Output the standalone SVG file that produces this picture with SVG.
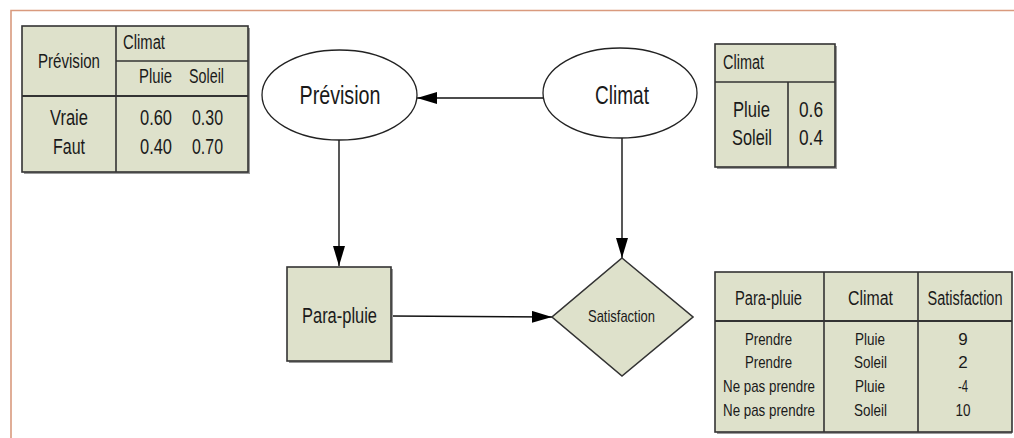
<svg xmlns="http://www.w3.org/2000/svg" width="1014" height="438" viewBox="0 0 1014 438">
  <defs>
    <marker id="arrow" viewBox="0 0 20 12" refX="20" refY="6" markerWidth="20" markerHeight="12" markerUnits="userSpaceOnUse" orient="auto">
      <path d="M0,0 L20,6 L0,12 Z" fill="#000"/>
    </marker>
    <style>
      text { font-family: "Liberation Sans Narrow", "Liberation Sans", Arial, sans-serif; fill: #1a1a1a; }
      .mid { text-anchor: middle; }
      .box { fill: #dee1cb; stroke: #333; stroke-width: 1.6; }
      .shadow { fill: #9a9a9a; }
      .rule { stroke: #333; stroke-width: 1.6; fill: none; }
      .rule2 { stroke: #333; stroke-width: 2.2; fill: none; }
      .node { fill: #fff; stroke: #222; stroke-width: 1.3; }
      .edge { stroke: #111; stroke-width: 1.4; fill: none; marker-end: url(#arrow); }
      .h18 { font-size: 19.5px; }
      .d20 { font-size: 21.5px; }
      .d16 { font-size: 17px; }
    </style>
  </defs>

  <!-- page frame -->
  <path d="M11,438 L11,10.5 L1014,10.5" fill="none" stroke="#d99a7e" stroke-width="1.6"/>

  <!-- CPT: Prévision given Climat -->
  <g id="table-prevision">
    <rect class="shadow" x="24" y="28" width="226" height="146"/>
    <rect class="box" x="22" y="26" width="226" height="146"/>
    <line class="rule" x1="116" y1="26" x2="116" y2="172"/>
    <line class="rule" x1="116" y1="61" x2="248" y2="61"/>
    <line class="rule2" x1="22" y1="96" x2="248" y2="96"/>
    <text class="h18 mid" x="69" y="68" textLength="62" lengthAdjust="spacingAndGlyphs">Prévision</text>
    <text class="h18" x="123" y="49" textLength="42" lengthAdjust="spacingAndGlyphs">Climat</text>
    <text class="h18 mid" x="155.5" y="83" textLength="33" lengthAdjust="spacingAndGlyphs">Pluie</text>
    <text class="h18 mid" x="206.5" y="83" textLength="35" lengthAdjust="spacingAndGlyphs">Soleil</text>
    <text class="d20 mid" x="69" y="125" textLength="38" lengthAdjust="spacingAndGlyphs">Vraie</text>
    <text class="d20 mid" x="69" y="154" textLength="32" lengthAdjust="spacingAndGlyphs">Faut</text>
    <text class="d20 mid" x="156" y="125" textLength="32" lengthAdjust="spacingAndGlyphs">0.60</text>
    <text class="d20 mid" x="207.5" y="125" textLength="31" lengthAdjust="spacingAndGlyphs">0.30</text>
    <text class="d20 mid" x="156" y="154" textLength="32" lengthAdjust="spacingAndGlyphs">0.40</text>
    <text class="d20 mid" x="207.5" y="154" textLength="31" lengthAdjust="spacingAndGlyphs">0.70</text>
  </g>

  <!-- prior: Climat -->
  <g id="table-climat">
    <rect class="shadow" x="717" y="46" width="120" height="123"/>
    <rect class="box" x="715" y="44" width="120" height="123"/>
    <line class="rule" x1="715" y1="82" x2="835" y2="82"/>
    <line class="rule" x1="788" y1="82" x2="788" y2="167"/>
    <text class="h18" x="723" y="69" textLength="41" lengthAdjust="spacingAndGlyphs">Climat</text>
    <text class="d20 mid" x="751.5" y="117" textLength="37" lengthAdjust="spacingAndGlyphs">Pluie</text>
    <text class="d20 mid" x="752" y="145" textLength="40" lengthAdjust="spacingAndGlyphs">Soleil</text>
    <text class="d20 mid" x="811" y="117" textLength="24" lengthAdjust="spacingAndGlyphs">0.6</text>
    <text class="d20 mid" x="811" y="145" textLength="24" lengthAdjust="spacingAndGlyphs">0.4</text>
  </g>

  <!-- utility table: Satisfaction -->
  <g id="table-satisfaction">
    <rect class="shadow" x="717" y="274" width="295" height="160"/>
    <rect class="box" x="715" y="272" width="297" height="160"/>
    <line class="rule2" x1="715" y1="321" x2="1012" y2="321"/>
    <line class="rule" x1="824" y1="272" x2="824" y2="432"/>
    <line class="rule" x1="918" y1="272" x2="918" y2="432"/>
    <text class="h18 mid" x="768.5" y="305" textLength="67" lengthAdjust="spacingAndGlyphs">Para-pluie</text>
    <text class="h18 mid" x="870.5" y="305" textLength="45" lengthAdjust="spacingAndGlyphs">Climat</text>
    <text class="h18 mid" x="965" y="305" textLength="75" lengthAdjust="spacingAndGlyphs">Satisfaction</text>
    <text class="d16 mid" x="768.5" y="345" textLength="47" lengthAdjust="spacingAndGlyphs">Prendre</text>
    <text class="d16 mid" x="768.5" y="368" textLength="47" lengthAdjust="spacingAndGlyphs">Prendre</text>
    <text class="d16 mid" x="769" y="392" textLength="92" lengthAdjust="spacingAndGlyphs">Ne pas prendre</text>
    <text class="d16 mid" x="769" y="416" textLength="92" lengthAdjust="spacingAndGlyphs">Ne pas prendre</text>
    <text class="d16 mid" x="870" y="345" textLength="30" lengthAdjust="spacingAndGlyphs">Pluie</text>
    <text class="d16 mid" x="870.5" y="368" textLength="33" lengthAdjust="spacingAndGlyphs">Soleil</text>
    <text class="d16 mid" x="870" y="392" textLength="30" lengthAdjust="spacingAndGlyphs">Pluie</text>
    <text class="d16 mid" x="870.5" y="416" textLength="33" lengthAdjust="spacingAndGlyphs">Soleil</text>
    <text class="d16 mid" x="963" y="345">9</text>
    <text class="d16 mid" x="963" y="368">2</text>
    <text class="d16 mid" x="963" y="392" textLength="10" lengthAdjust="spacingAndGlyphs">-4</text>
    <text class="d16 mid" x="963" y="416" textLength="15" lengthAdjust="spacingAndGlyphs">10</text>
  </g>

  <!-- connectors -->
  <g id="edges">
    <line class="edge" x1="543" y1="98" x2="417" y2="98"/>
    <line class="edge" x1="339" y1="140" x2="339" y2="266"/>
    <line class="edge" x1="622" y1="138" x2="622" y2="258"/>
    <line class="edge" x1="391" y1="316" x2="552" y2="317"/>
  </g>

  <!-- chance node: Prévision -->
  <g id="node-prevision">
    <ellipse class="node" cx="339.5" cy="95" rx="77.5" ry="45"/>
    <text class="mid" x="340" y="104" font-size="26" textLength="81" lengthAdjust="spacingAndGlyphs">Prévision</text>
  </g>

  <!-- chance node: Climat -->
  <g id="node-climat">
    <ellipse class="node" cx="620" cy="93" rx="77" ry="45"/>
    <text class="mid" x="622" y="104" font-size="26" textLength="54" lengthAdjust="spacingAndGlyphs">Climat</text>
  </g>

  <!-- decision node: Para-pluie -->
  <g id="node-parapluie">
    <rect class="shadow" x="289" y="269" width="104" height="94"/>
    <rect class="box" x="287" y="267" width="104" height="94"/>
    <text class="mid" x="339.5" y="323" font-size="21.5" textLength="75" lengthAdjust="spacingAndGlyphs">Para-pluie</text>
  </g>

  <!-- utility node: Satisfaction -->
  <g id="node-satisfaction">
    <polygon class="box" points="622,258 693,317 622,376 552,317"/>
    <text class="mid" x="621.5" y="322" font-size="17" textLength="67" lengthAdjust="spacingAndGlyphs">Satisfaction</text>
  </g>
</svg>
